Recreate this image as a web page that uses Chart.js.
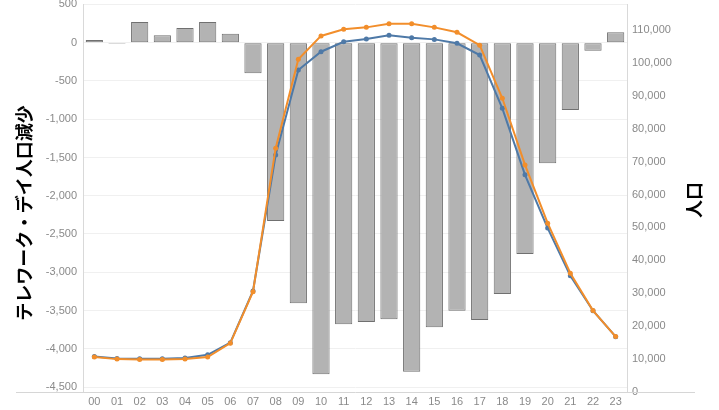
<!DOCTYPE html>
<html>
<head>
<meta charset="utf-8">
<script src="https://cdn.jsdelivr.net/npm/chart.js@4"></script>
<style>
  html, body { margin: 0; padding: 0; background: #fff; }
</style>
</head>
<body>
<canvas id="teleworkChart" width="719" height="410"></canvas>
<script>
// hours of the day
const hours = ["00", "01", "02", "03", "04", "05", "06", "07", "08", "09", "10", "11",
  "12", "13", "14", "15", "16", "17", "18", "19", "20", "21", "22", "23"];

// テレワーク・デイ人口減少 (bars, left axis)
const decrease = [36, -15, 271, 97, 193, 271, 118, -399, -2330, -3406, -4334, -3680,
  -3650, -3615, -4300, -3719, -3503, -3624, -3284, -2761, -1576, -879, -104, 137];

// 人口 (lines, right axis)
const popUsual = [10600, 9990, 9870, 9870, 10000, 10600, 14850, 30500, 74100, 101100, 108200, 110200,
  110800, 111900, 111900, 110800, 109300, 105400, 89250, 69000, 51300, 36100, 24750, 16850];
const popTelework = [10800, 10200, 10100, 10100, 10300, 11300, 15000, 30700, 72000, 97850, 103400, 106400,
  107250, 108400, 107650, 107150, 105950, 102400, 86200, 66000, 49800, 35300, 24700, 16800];

// tick values
const leftTicks = [500, 0, -500, -1000, -1500, -2000, -2500, -3000, -3500, -4000, -4500];
const rightTicks = [0, 10000, 20000, 30000, 40000, 50000, 60000, 70000, 80000, 90000, 100000, 110000];

const tickFont = { family: "Liberation Sans", size: 11 };
const tickColor = "#8a8a8a";
const fmt = v => Math.round(v).toLocaleString("en-US");

// axis titles and the long bottom rule
const extras = {
  id: "extras",
  beforeDatasetsDraw(chart) {
    const ctx = chart.ctx;
    ctx.save();
    ctx.strokeStyle = "#d6d6d6";
    ctx.lineWidth = 1;
    ctx.beginPath();
    ctx.moveTo(16, 392.5);
    ctx.lineTo(695, 392.5);
    ctx.stroke();
    ctx.restore();
  },
  afterDraw(chart) {
    const ctx = chart.ctx;
    ctx.save();
    ctx.fillStyle = "#000";
    ctx.font = "bold 18px 'Noto Sans CJK JP'";
    ctx.textAlign = "center";
    ctx.textBaseline = "middle";
    ctx.translate(24, 213);
    ctx.rotate(-Math.PI / 2);
    ctx.fillText("テレワーク・デイ人口減少", 0, 0);
    ctx.restore();

    ctx.save();
    ctx.fillStyle = "#000";
    ctx.font = "bold 18px 'Noto Sans CJK JP'";
    ctx.textAlign = "center";
    ctx.textBaseline = "middle";
    ctx.translate(694, 200);
    ctx.rotate(-Math.PI / 2);
    ctx.fillText("人口", 0, 0);
    ctx.restore();
  }
};

new Chart(document.getElementById("teleworkChart").getContext("2d"), {
  data: {
    labels: hours,
    datasets: [
      {
        type: "line",
        label: "通常",
        data: popUsual,
        yAxisID: "y1",
        borderColor: "#f28e2b",
        backgroundColor: "#f28e2b",
        borderWidth: 2,
        pointRadius: 2.5,
        pointBorderWidth: 0,
        tension: 0,
        order: 1
      },
      {
        type: "line",
        label: "テレワーク・デイ",
        data: popTelework,
        yAxisID: "y1",
        borderColor: "#4e79a7",
        backgroundColor: "#4e79a7",
        borderWidth: 2,
        pointRadius: 2.5,
        pointBorderWidth: 0,
        tension: 0,
        order: 2
      },
      {
        type: "bar",
        label: "テレワーク・デイ人口減少",
        data: decrease,
        yAxisID: "y",
        backgroundColor: "#b3b3b3",
        borderColor: "#707070",
        borderWidth: 1,
        borderSkipped: false,
        barPercentage: 0.76,
        categoryPercentage: 1,
        order: 3
      }
    ]
  },
  options: {
    responsive: false,
    animation: false,
    layout: { padding: { top: 4, left: 0, right: 0, bottom: 0 } },
    plugins: {
      legend: { display: false },
      tooltip: { enabled: false }
    },
    scales: {
      x: {
        grid: { display: false, drawTicks: false },
        border: { display: false },
        ticks: { color: tickColor, font: tickFont, padding: 3, maxRotation: 0, autoSkip: false },
        afterFit(s) { s.height = 18; s.paddingLeft = 0; s.paddingRight = 0; }
      },
      y: {
        position: "left",
        min: -4565,
        max: 506,
        grid: { color: "#f0f0f0", drawTicks: false },
        border: { color: "#d9d9d9" },
        ticks: { color: tickColor, font: tickFont, padding: 6, autoSkip: false, callback: fmt },
        afterBuildTicks(s) { s.ticks = leftTicks.map(v => ({ value: v })); },
        afterFit(s) { s.width = 83; s.paddingTop = 0; s.paddingBottom = 0; }
      },
      y1: {
        position: "right",
        min: 0,
        max: 117900,
        grid: { drawOnChartArea: false, drawTicks: false },
        border: { color: "#d9d9d9" },
        ticks: { color: tickColor, font: tickFont, padding: 5, autoSkip: false, callback: fmt },
        afterBuildTicks(s) { s.ticks = rightTicks.map(v => ({ value: v })); },
        afterFit(s) { s.width = 92; s.paddingTop = 0; s.paddingBottom = 0; }
      }
    }
  },
  plugins: [extras]
});
</script>
</body>
</html>
